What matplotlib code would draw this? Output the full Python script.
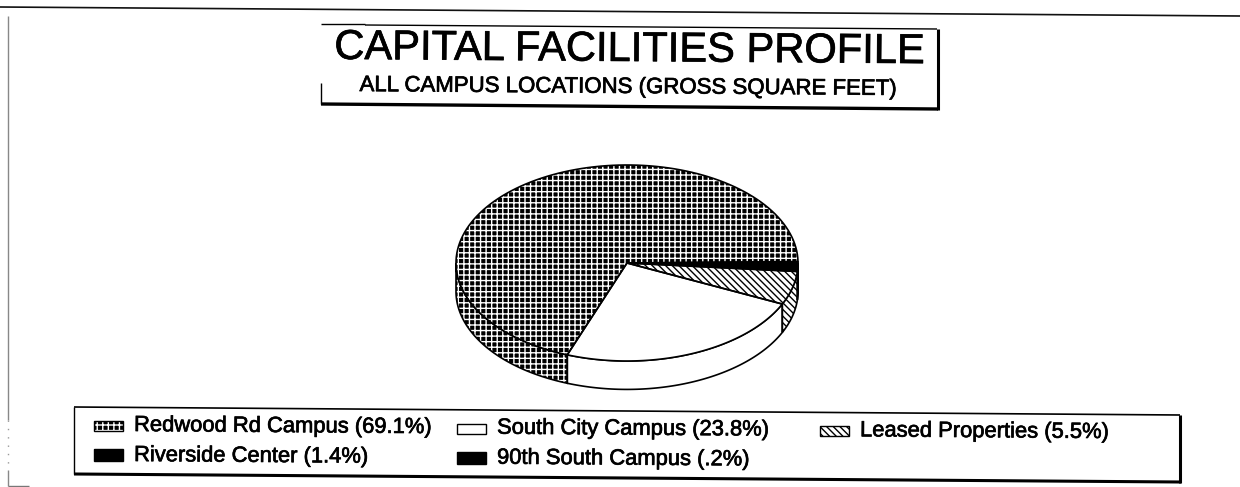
import numpy as np
import matplotlib
matplotlib.use("Agg")
import matplotlib.pyplot as plt
import matplotlib.patheffects as pe
from matplotlib.lines import Line2D
from matplotlib.patches import Polygon, Rectangle

plt.rcParams['font.family'] = ['Liberation Sans', 'DejaVu Sans']
plt.rcParams['hatch.linewidth'] = 1.0

TITLE = "CAPITAL FACILITIES PROFILE"
SUBTITLE = "ALL CAMPUS LOCATIONS (GROSS SQUARE FEET)"
categories = ["Redwood Rd Campus", "South City Campus", "Leased Properties",
              "Riverside Center", "90th South Campus"]
shares = [69.1, 23.8, 5.5, 1.4, 0.2]
share_labels = ["69.1%", "23.8%", "5.5%", "1.4%", ".2%"]

W, H = 1240, 487
fig = plt.figure(figsize=(W / 100, H / 100), dpi=100, facecolor='white')
TILT = -0.42          # the scanned page sits slightly rotated
SLOPE = 0.0073
HEAVY = [pe.withStroke(linewidth=0.5, foreground='black')]

def fx(x): return x / W
def fy(y): return 1 - y / H
def rule(xs, ys, color='black', lw=1.2, **kw):
    fig.add_artist(Line2D([fx(v) for v in xs], [fy(v) for v in ys], color=color, lw=lw,
                          solid_capstyle='butt', **kw))

# pie axes, squashed so the circle reads as a tilted disc
cx, cy, a, b, depth = 627, 263, 171, 98, 0.29
L, R, T, B = 440, 814, 150, 400
ax = fig.add_axes([fx(L), fy(B), (R - L) / W, (B - T) / H])

styles = [
    dict(face='black', hatch_col='white', hatch='+++'),
    dict(face='white', hatch_col='white', hatch=None),
    dict(face='white', hatch_col='black', hatch='\\\\\\\\\\'),
    dict(face='black', hatch_col='black', hatch=None),
    dict(face='black', hatch_col='black', hatch=None),
]
start = 0.8
wedges, _ = ax.pie(shares, startangle=start, counterclock=True, radius=1, center=(0, 0))
ax.set_aspect('auto')
ax.set_xlim((L - cx) / a, (R - cx) / a)
ax.set_ylim((cy - B) / b, (cy - T) / b)
ax.axis('off')

edges = np.cumsum([0] + shares) / sum(shares) * 360 + start
for i, w in enumerate(wedges):
    s = styles[i]
    w.set_zorder(5)
    w.set_facecolor(s['face'])
    w.set_edgecolor(s['hatch_col'])
    w.set_linewidth(0)
    if s['hatch']:
        w.set_hatch(s['hatch'])
    t1, t2 = edges[i], edges[i + 1]
    lo, hi = max(t1, 180), min(t2, 360)
    if hi > lo:
        th = np.radians(np.linspace(lo, hi, 80))
        xs, ys = np.cos(th), np.sin(th)
        pts = np.r_[np.c_[xs, ys], np.c_[xs[::-1], ys[::-1] - depth]]
        ax.add_patch(Polygon(pts, closed=True, facecolor=s['face'],
                             edgecolor=s['hatch_col'], hatch=s['hatch'], lw=0, zorder=3))
        ax.add_patch(Polygon(pts, closed=True, facecolor='none',
                             edgecolor='black', lw=1.2, zorder=4))
    th = np.radians(np.linspace(t1, t2, 120))
    ax.plot(np.r_[0, np.cos(th), 0], np.r_[0, np.sin(th), 0], color='black', lw=1.2, zorder=6)

# outer page rules
rule((0, 1240), (7, 16), color='#111111', lw=1.2)
rule((8, 8), (16, 420), color='#888888', lw=1.0)
rule((8, 8), (420, 470), color='#999999', lw=1.0, linestyle=(0, (1, 5)))
rule((8, 8), (470, 486), color='#888888', lw=1.0)
rule((8, 29), (486, 486), color='#777777', lw=1.0)

# title box
rule((321, 365), (24, 24), lw=1.0)
rule((365, 937), (25, 29), lw=1.0)
rule((321, 321), (83, 104), lw=1.0)
rule((321, 938), (104, 109), lw=2.4)
rule((937.5, 937.5), (29, 110), lw=2.2)
fig.text(fx(629), fy(61), TITLE, fontsize=30, ha='center', va='baseline', color='black',
         rotation=TILT, rotation_mode='anchor', path_effects=HEAVY)
fig.text(fx(628.5), fy(93), SUBTITLE, fontsize=16, ha='center', va='baseline', color='black',
         rotation=TILT, rotation_mode='anchor', path_effects=HEAVY)

# legend box
rule((74, 1180), (407, 415), lw=1.2)
rule((74, 74), (407, 474), lw=1.0)
rule((74, 1181), (474, 482), lw=2.2)
rule((1180, 1180), (415, 483), lw=2.2)

# legend entries: columns left to right, two rows
text_x = [134, 497, 860, 134, 497]
row_y = [425, 425, 425, 454, 454]
base_y = [431, 431, 431, 461, 461]
swatch_h = [10, 10, 10, 12, 12]
entries = [0, 1, 2, 3, 4]
for i, tx, ry, by, sh in zip(entries, text_x, row_y, base_y, swatch_h):
    dy = SLOPE * (tx - 134)
    s = styles[i]
    box = (fx(tx - 40), fy(ry + dy + sh / 2 + 1))
    fig.add_artist(Rectangle(box, 29 / W, sh / H, transform=fig.transFigure,
                             facecolor=s['face'], edgecolor=s['hatch_col'],
                             hatch=s['hatch'], lw=0))
    fig.add_artist(Rectangle(box, 29 / W, sh / H, transform=fig.transFigure,
                             facecolor='none', edgecolor='black', lw=1.0))
    fig.text(fx(tx), fy(by + dy), f"{categories[i]} ({share_labels[i]})", fontsize=15.8,
             ha='left', va='baseline', color='black', rotation=TILT, rotation_mode='anchor',
             path_effects=HEAVY)

fig.savefig("out.png", dpi=100, facecolor='white')
